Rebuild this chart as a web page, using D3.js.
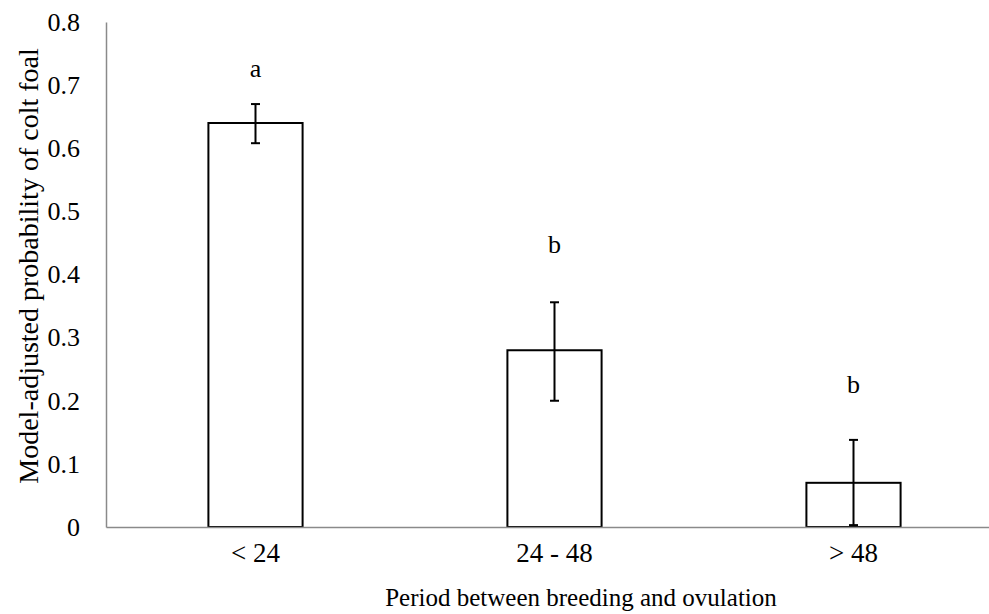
<!DOCTYPE html>
<html>
<head>
<meta charset="utf-8">
<script src="https://cdn.jsdelivr.net/npm/d3@7/dist/d3.min.js"></script>
<style>
  html, body { margin: 0; padding: 0; background: #fff; }
  svg { display: block; }
  text { font-family: "Liberation Serif", "Times New Roman", serif; fill: #000; }
</style>
</head>
<body>
<svg id="chart" width="989" height="614"></svg>
<script>
const categories = ["< 24", "24 - 48", "> 48"];
const values = [0.64, 0.28, 0.07];
const errLow = [0.608, 0.200, 0.003];
const errHigh = [0.670, 0.356, 0.138];
const letters = ["a", "b", "b"];
const letterY = [0.713, 0.434, 0.212];
const yTicks = [0, 0.1, 0.2, 0.3, 0.4, 0.5, 0.6, 0.7, 0.8];

(function () {
const svg = d3.select("#chart");
const mLeft = 106, mRight = 1003, mTop = 22, mBottom = 527;

const x = d3.scaleBand().domain(categories).range([mLeft, mRight])
  .paddingInner(0.685).paddingOuter(0.3425);
const y = d3.scaleLinear().domain([0, 0.8]).range([mBottom, mTop]);

// bars
svg.append("g").selectAll("rect").data(categories).join("rect")
  .attr("x", d => x(d))
  .attr("y", (d, i) => y(values[i]))
  .attr("width", x.bandwidth())
  .attr("height", (d, i) => y(0) - y(values[i]))
  .attr("fill", "#fff")
  .attr("stroke", "#000")
  .attr("stroke-width", 2);

// axes
const yAxis = d3.axisLeft(y).tickValues(yTicks).tickSize(0).tickPadding(26)
  .tickFormat(d => d === 0 ? "0" : d3.format(".1f")(d));
const gy = svg.append("g").attr("transform", `translate(${mLeft},0)`).call(yAxis);
gy.select(".domain").attr("stroke", "#8a8a8a").attr("stroke-width", 1.5);
gy.selectAll("text").attr("font-size", 26).attr("font-family", "Liberation Serif");

const xAxis = d3.axisBottom(x).tickSize(0).tickPadding(16);
const gx = svg.append("g").attr("transform", `translate(0,${mBottom})`).call(xAxis);
gx.select(".domain").attr("stroke", "#8a8a8a").attr("stroke-width", 1.5);
gx.selectAll("text").attr("font-size", 27).attr("font-family", "Liberation Serif");

// error bars
const eb = svg.append("g").attr("stroke", "#000").attr("stroke-width", 2);
categories.forEach((c, i) => {
  const cx = x(c) + x.bandwidth() / 2;
  eb.append("line").attr("x1", cx).attr("x2", cx).attr("y1", y(errLow[i])).attr("y2", y(errHigh[i]));
  eb.append("line").attr("x1", cx - 4.5).attr("x2", cx + 4.5).attr("y1", y(errLow[i])).attr("y2", y(errLow[i]));
  eb.append("line").attr("x1", cx - 4.5).attr("x2", cx + 4.5).attr("y1", y(errHigh[i])).attr("y2", y(errHigh[i]));
});

// significance letters
svg.append("g").selectAll("text").data(letters).join("text")
  .attr("x", (d, i) => x(categories[i]) + x.bandwidth() / 2)
  .attr("y", (d, i) => y(letterY[i]))
  .attr("text-anchor", "middle")
  .attr("font-size", 26)
  .text(d => d);

// axis titles
svg.append("text")
  .attr("x", 581).attr("y", 606)
  .attr("text-anchor", "middle")
  .attr("font-size", 25)
  .text("Period between breeding and ovulation");

svg.append("text")
  .attr("transform", "translate(38,266) rotate(-90)")
  .attr("text-anchor", "middle")
  .attr("font-size", 28)
  .text("Model-adjusted probability of colt foal");
})();
</script>
</body>
</html>
